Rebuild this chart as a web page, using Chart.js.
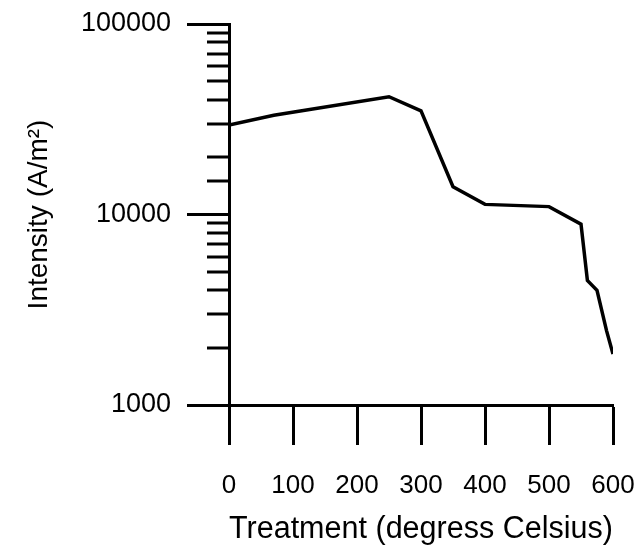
<!DOCTYPE html>
<html lang="en">
<head>
  <meta charset="UTF-8" />
  <title>Intensity vs Treatment</title>
  <script src="https://cdn.jsdelivr.net/npm/chart.js"></script>
  <style>
    body {
      margin: 0;
      background: #fff;
    }
    canvas {
      display: block;
    }
  </style>
</head>
<body>
  <canvas id="intensityChart" width="639" height="545"></canvas>

  <script>
    // Treatment temperatures (deg C) and measured intensity (A/m^2)
    const temperatures = [0, 70, 250, 300, 350, 400, 500, 550, 560, 575, 590, 600];
    const intensities = [29500, 33200, 41500, 35000, 14000, 11300, 11000, 8900, 4500, 4000, 2450, 1850];
    const xTicks = [0, 100, 200, 300, 400, 500, 600];
    const yLabelled = [1000, 10000, 100000];

    const FONT = "'Liberation Sans', Arial, sans-serif";

    const isDecade = v => Math.abs(Math.log10(v) - Math.round(Math.log10(v))) < 1e-9;

    // short minor ticks on the log axis (the long decade ticks come from the grid)
    const minorTicks = {
      id: 'minorTicks',
      afterDraw(chart) {
        const y = chart.scales.y;
        const c = chart.ctx;
        const left = chart.chartArea.left;
        c.save();
        c.strokeStyle = '#000';
        c.lineWidth = 3;
        y.ticks.forEach(t => {
          if (isDecade(t.value)) return;
          const py = Math.round(y.getPixelForValue(t.value));
          c.beginPath();
          c.moveTo(left - 22, py);
          c.lineTo(left, py);
          c.stroke();
        });
        c.restore();
      }
    };

    const ctx = document.getElementById('intensityChart').getContext('2d');
    const chart = new Chart(ctx, {
      type: 'line',
      data: {
        datasets: [{
          label: 'Intensity',
          data: temperatures.map((t, i) => ({ x: t, y: intensities[i] })),
          borderColor: '#000',
          borderWidth: 3.5,
          pointRadius: 0,
          tension: 0,
          fill: false
        }]
      },
      options: {
        responsive: false,
        animation: false,
        layout: { padding: { top: 24, right: 26, left: 0, bottom: 0 } },
        plugins: {
          legend: { display: false },
          tooltip: { enabled: false }
        },
        scales: {
          x: {
            type: 'linear',
            min: 0,
            max: 600,
            afterFit: s => { s.height = 140; s.paddingLeft = 0; s.paddingRight = 0; },
            afterBuildTicks: s => { s.ticks = xTicks.map(v => ({ value: v })); },
            border: { display: true, color: '#000', width: 3 },
            grid: {
              drawOnChartArea: false,
              drawTicks: true,
              tickLength: 40,
              tickWidth: 3,
              tickColor: '#000'
            },
            ticks: {
              color: '#000',
              padding: 25,
              maxRotation: 0,
              font: { family: FONT, size: 26 }
            },
            title: {
              display: true,
              text: 'Treatment (degress Celsius)',
              color: '#000',
              padding: { top: 0, bottom: -3 },
              font: { family: FONT, size: 31 }
            }
          },
          y: {
            type: 'logarithmic',
            min: 1000,
            max: 100000,
            afterFit: s => { s.width = 229; s.paddingTop = 0; s.paddingBottom = 0; },
            border: { display: true, color: '#000', width: 3 },
            grid: {
              drawOnChartArea: false,
              drawTicks: true,
              tickLength: 42,
              tickWidth: 3,
              tickColor: c => (c.tick && isDecade(c.tick.value)) ? '#000' : 'rgba(0,0,0,0)'
            },
            ticks: {
              autoSkip: false,
              color: '#000',
              padding: 16,
              font: { family: FONT, size: 27 },
              callback: v => yLabelled.includes(v) ? String(v) : ''
            },
            title: {
              display: true,
              text: 'Intensity (A/m²)',
              color: '#000',
              padding: { top: 22, bottom: 0 },
              font: { family: FONT, size: 28 }
            }
          }
        }
      },
      plugins: [minorTicks]
    });
  </script>
</body>
</html>
